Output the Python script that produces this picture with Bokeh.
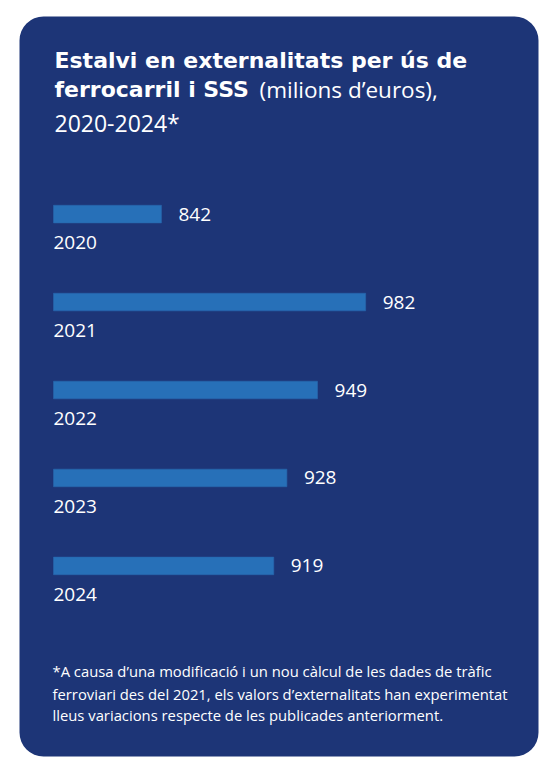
from bokeh.plotting import figure
from bokeh.models import ColumnDataSource, FactorRange, Range1d, Label, BoxAnnotation
from bokeh.core.properties import value
from bokeh.embed import file_html
from bokeh.resources import INLINE

# data (milions d'euros)
years = ["2020", "2021", "2022", "2023", "2024"]
savings = [842, 982, 949, 928, 919]
labels = [str(v) for v in savings]

title_bold_1 = "Estalvi en externalitats per ús de"
title_bold_2 = "ferrocarril i SSS"
title_normal_2 = "(milions d\u2019euros),"
title_normal_3 = "2020-2024*"
footnote = [
    "*A causa d\u2019una modificació i un nou càlcul de les dades de tràfic",
    "ferroviari des del 2021, els valors d\u2019externalitats han experimentat",
    "lleus variacions respecte de les publicades anteriorment.",
]

NAVY = "#1d3577"
BAR = "#2770b8"
FONT = "Open Sans"
BOLD_FONT = "DejaVu Sans"
BASE = 768  # bars start here (axis is cut, as in the original)
W, H = 546, 767
SHIFT = 7.5  # baseline correction for svg text

source = ColumnDataSource(dict(year=years, saving=savings, label=labels,
                               base=[BASE] * len(years)))

p = figure(
    width=W, height=H,
    x_range=Range1d(731.67, 731.67 + W / 1.4587),
    y_range=FactorRange(factors=years[::-1], range_padding=1.792,
                        range_padding_units="absolute"),
    x_axis_location=None, y_axis_location=None,
    toolbar_location=None, output_backend="svg",
    min_border_left=0, min_border_right=0,
    min_border_top=12, min_border_bottom=0,
)
p.outline_line_color = None
p.xgrid.visible = False
p.ygrid.visible = False
p.background_fill_color = "white"
p.border_fill_color = "white"


def sy(y):
    # page y -> screen y (measured up from the frame bottom)
    return H - y


card = BoxAnnotation(left=19, right=538, top=sy(16), bottom=sy(756),
                     left_units="screen", right_units="screen",
                     top_units="screen", bottom_units="screen",
                     fill_color=NAVY, fill_alpha=1, line_color=None,
                     border_radius=24, level="underlay")
p.add_layout(card)

p.hbar(y="year", left="base", right="saving", height=0.2,
       source=source, fill_color=BAR, line_color="#2866ac", line_width=0.6)

# value labels
p.text(x="saving", y="year", text="label", source=source,
       x_offset=17, y_offset=7.5 - SHIFT, text_align="left",
       text_baseline="alphabetic", text_color="white",
       text_font=value(FONT), text_font_size="19px")

# year labels under each bar
p.text(x="base", y="year", text="year", source=source,
       y_offset=36 - SHIFT, text_align="left", text_baseline="alphabetic",
       text_color="white", text_font=value(FONT), text_font_size="19px")


def label(x, y, text, size, font=FONT, bold=False):
    p.add_layout(Label(x=x, y=sy(y - SHIFT), x_units="screen", y_units="screen",
                       text=text, text_color="white", text_font=font,
                       text_font_size=size,
                       text_font_style="bold" if bold else "normal",
                       text_baseline="alphabetic", text_align="left"))


# title
label(54, 67, title_bold_1, "22px", font=BOLD_FONT, bold=True)
label(54, 96.5, title_bold_2, "22px", font=BOLD_FONT, bold=True)
label(259, 96.5, title_normal_2, "22.5px")
label(54, 129.5, title_normal_3, "23px")

# footnote
for line, y in zip(footnote, [678.3, 700.5, 722]):
    label(52, y, line, "14.8px")

open("out.html", "w").write(file_html(p, INLINE))
